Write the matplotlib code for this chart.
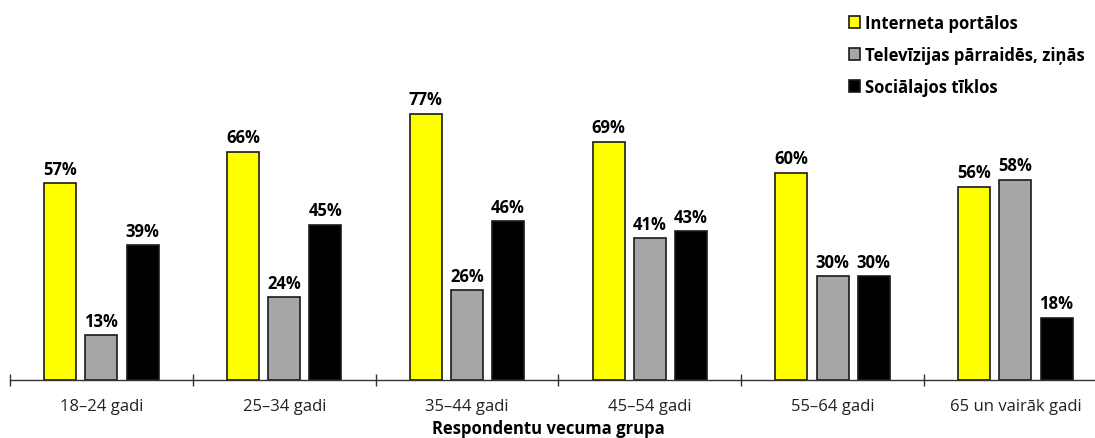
import numpy as np
import matplotlib.pyplot as plt

plt.rcParams['font.family'] = ['Open Sans', 'DejaVu Sans']

groups = ['18–24 gadi', '25–34 gadi', '35–44 gadi', '45–54 gadi',
          '55–64 gadi', '65 un vairāk gadi']
series = ['Interneta portālos', 'Televīzijas pārraidēs, ziņās',
          'Sociālajos tīklos']
portals = [57, 66, 77, 69, 60, 56]
television = [13, 24, 26, 41, 30, 58]
social = [39, 45, 46, 43, 30, 18]
colors = ['#ffff00', '#a6a6a6', '#000000']

fig = plt.figure(figsize=(10.95, 4.39), dpi=100)
ax = fig.add_axes((10 / 1095, 58 / 439, 1085 / 1095, 381 / 439))

x = np.arange(len(groups))
width = 0.175
offsets = [-0.225, 0.0, 0.225]

for values, name, color, off in zip([portals, television, social], series,
                                    colors, offsets):
    bars = ax.bar(x + off, values, width, color=color, edgecolor='#1a1a1a',
                  linewidth=1.2, label=name)
    for rect, v in zip(bars, values):
        ax.annotate(f'{v}%', (rect.get_x() + rect.get_width() / 2,
                              rect.get_height()),
                    xytext=(0, 4), textcoords='offset points',
                    ha='center', va='bottom', fontsize=12, fontweight='bold')

ax.set_xlim(-0.5, -0.5 + 1085 / 182.8)
ax.set_ylim(0, 110.3)

# ticks sit on category boundaries, labels in the middle
ax.set_xticks(np.arange(len(groups)) - 0.5)
ax.set_xticklabels([])
ax.set_xticks(x, minor=True)
ax.set_xticklabels(groups, minor=True, fontsize=12, color='#222222')
ax.tick_params(axis='x', which='major', direction='inout', length=9,
               width=1, color='#333333')
ax.tick_params(axis='x', which='minor', length=0, pad=13)
ax.set_yticks([])

for side in ['top', 'right', 'left']:
    ax.spines[side].set_visible(False)
ax.spines['bottom'].set_color('#333333')
ax.spines['bottom'].set_linewidth(1.0)

fig.text(548 / 1095, 5 / 439, 'Respondentu vecuma grupa',
         ha='center', va='baseline', fontsize=12, fontweight='bold')

leg = ax.legend(loc='upper left', bbox_to_anchor=(837 / 1095, 1.0 - 3 / 439),
                bbox_transform=fig.transFigure, frameon=False,
                borderpad=0.2, handlelength=0.7, handleheight=0.7,
                handletextpad=0.3, labelspacing=0.85,
                prop={'size': 12, 'weight': 'bold'})

fig.savefig('out.png', dpi=100)
